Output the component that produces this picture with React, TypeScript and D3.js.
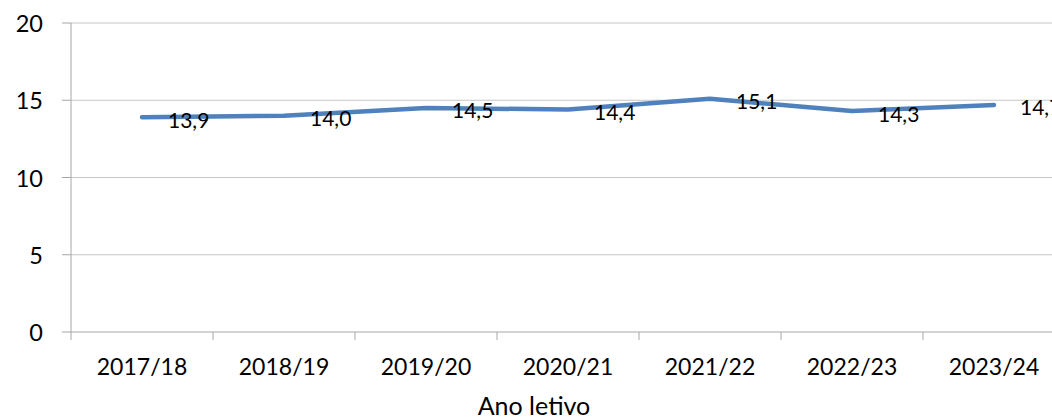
import React from "react";
import * as d3 from "d3";

const categories = ["2017/18", "2018/19", "2019/20", "2020/21", "2021/22", "2022/23", "2023/24"];
const values = [13.9, 14.0, 14.5, 14.4, 15.1, 14.3, 14.7];
const yTicks = [0, 5, 10, 15, 20];
const xTitle = "Ano letivo";

const W = 1052;
const H = 419;
const FONT = "Lato, 'Open Sans', sans-serif";

export default function App() {
  const left = 71;
  const band = 142;
  const x = d3.scaleBand<string>().domain(categories).range([left, left + band * categories.length]).padding(0);
  const y = d3.scaleLinear().domain([0, 20]).range([332, 23]);
  const cx = (c: string) => (x(c) as number) + x.bandwidth() / 2;
  const line = d3
    .line<number>()
    .x((_, i) => cx(categories[i]))
    .y((d) => y(d));
  const boundaries = categories.map((c) => x(c) as number);

  return (
    <div style={{ position: "absolute", left: 0, top: 0 }}>
      <svg width={W} height={H} style={{ display: "block", background: "#fff" }}>
        {yTicks.map((t) => (
          <g key={t}>
            <line x1={left} x2={W} y1={y(t)} y2={y(t)} stroke={t === 0 ? "#a6a6a6" : "#c6c6c6"} strokeWidth={1} />
            <line x1={left - 9} x2={left} y1={y(t)} y2={y(t)} stroke="#a6a6a6" strokeWidth={1} />
            <text
              x={43}
              y={y(t)}
              textAnchor="end"
              dominantBaseline="central"
              fontFamily={FONT}
              fontSize={23.5}
              fill="#000"
            >
              {t}
            </text>
          </g>
        ))}
        <line x1={left} x2={left} y1={y(20)} y2={y(0) + 8} stroke="#a6a6a6" strokeWidth={1} />
        {boundaries.map((b, i) =>
          i === 0 ? null : (
            <line key={i} x1={b} x2={b} y1={y(0)} y2={y(0) + 8} stroke="#a6a6a6" strokeWidth={1} />
          )
        )}
        {categories.map((c) => (
          <text
            key={c}
            x={cx(c)}
            y={366}
            textAnchor="middle"
            dominantBaseline="central"
            fontFamily={FONT}
            fontSize={23}
            fill="#000"
          >
            {c}
          </text>
        ))}
        <text x={534} y={405} textAnchor="middle" dominantBaseline="central" fontFamily={FONT} fontSize={25} fill="#000">
          {xTitle}
        </text>
        <path d={line(values) || ""} fill="none" stroke="#4f81bd" strokeWidth={4.5} strokeLinejoin="round" strokeLinecap="round" />
        {values.map((v, i) => (
          <text
            key={i}
            x={cx(categories[i]) + 26}
            y={y(v) + 2}
            dominantBaseline="central"
            fontFamily={FONT}
            fontSize={21}
            fill="#000"
          >
            {v.toFixed(1).replace(".", ",")}
          </text>
        ))}
      </svg>
    </div>
  );
}
